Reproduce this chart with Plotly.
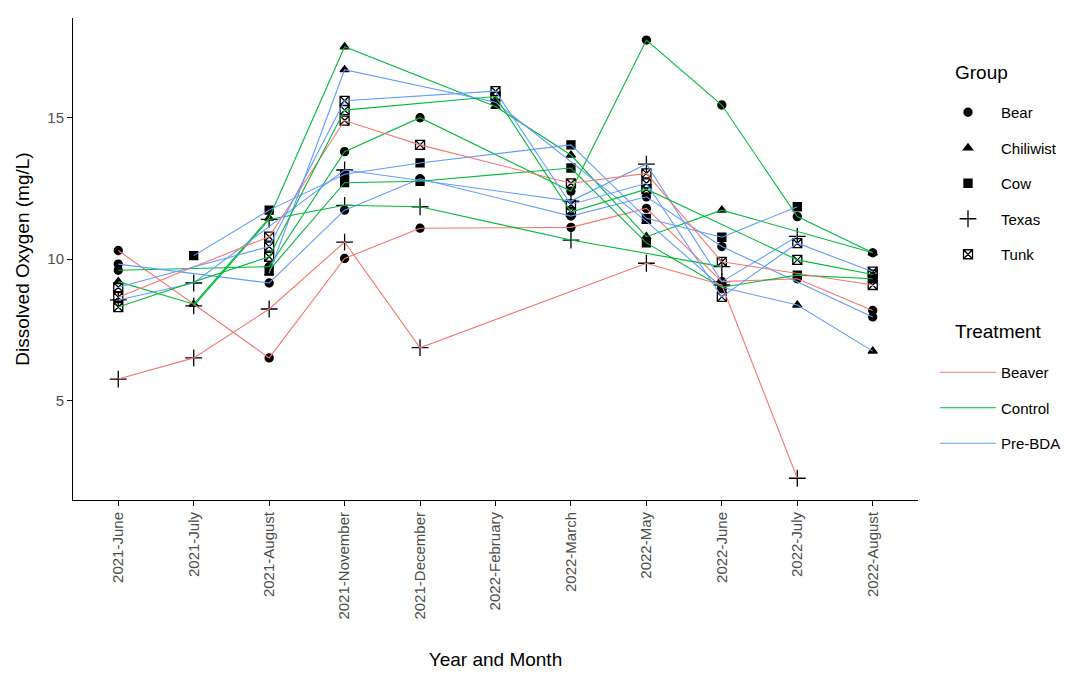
import plotly.graph_objects as go

months = ["2021-June", "2021-July", "2021-August", "2021-November", "2021-December",
          "2022-February", "2022-March", "2022-May", "2022-June", "2022-July", "2022-August"]

groups = ["Bear", "Chiliwist", "Cow", "Texas", "Tunk"]
treatments = ["Beaver", "Control", "Pre-BDA"]

# Dissolved oxygen (mg/L) per site, one value per month (None = not sampled)
bear_beaver = [10.3, None, 6.5, 10.02, 11.09, None, 11.12, 11.79, 9.2, 9.3, 8.18]
bear_control = [9.6, None, 9.73, 13.8, 15.0, None, 12.4, 17.75, 15.45, 11.5, 10.22]
bear_prebda = [9.82, None, 9.15, 11.73, 12.84, None, 11.52, 12.2, 10.44, None, 7.95]
chiliwist_control = [9.2, 8.4, 11.45, 17.51, None, 15.4, 13.68, 10.79, 11.73, None, 10.22]
chiliwist_prebda = [None, None, 9.5, 16.7, None, 15.55, None, 11.33, 9.0, 8.37, 6.74]
cow_control = [None, None, 9.6, 12.7, 12.75, None, 13.22, 10.57, 9.0, 9.43, 9.3]
cow_prebda = [None, 10.12, 11.73, 13.0, 13.4, None, 14.04, 11.44, 10.77, 11.85, None]
texas_beaver = [5.75, 6.5, 8.23, 10.6, 6.86, None, None, 9.85, 9.08, 2.24, None]
texas_control = [None, 8.34, 11.4, 11.9, 11.85, None, 10.67, None, 9.73, None, None]
texas_prebda = [8.55, 9.15, None, 13.15, None, None, 12.05, 13.36, 9.2, 10.8, None]
tunk_beaver = [8.65, None, 10.79, 14.9, 14.04, None, 12.68, 13.03, 9.9, None, 9.08]
tunk_control = [8.3, None, 10.08, 15.27, None, 15.75, 11.66, 12.47, None, 9.97, 9.45]
tunk_prebda = [9.0, None, 10.44, 15.6, None, 15.94, 11.93, 12.68, 8.66, 10.56, 9.55]

sites = [
    ("Bear", "Beaver", bear_beaver),
    ("Bear", "Control", bear_control),
    ("Bear", "Pre-BDA", bear_prebda),
    ("Chiliwist", "Control", chiliwist_control),
    ("Chiliwist", "Pre-BDA", chiliwist_prebda),
    ("Cow", "Control", cow_control),
    ("Cow", "Pre-BDA", cow_prebda),
    ("Texas", "Beaver", texas_beaver),
    ("Texas", "Control", texas_control),
    ("Texas", "Pre-BDA", texas_prebda),
    ("Tunk", "Beaver", tunk_beaver),
    ("Tunk", "Control", tunk_control),
    ("Tunk", "Pre-BDA", tunk_prebda),
]

colors = {"Beaver": "#F8766D", "Control": "#00BA38", "Pre-BDA": "#619CFF"}
symbols = {"Bear": "circle", "Chiliwist": "triangle-up", "Cow": "square",
           "Texas": "cross-thin", "Tunk": "square-x-open"}
sizes = {"Bear": 8, "Chiliwist": 8, "Cow": 8, "Texas": 12, "Tunk": 9}

FONT = "Liberation Sans, Arial, sans-serif"
fig = go.Figure()

# points, one trace per group
for g in groups:
    xs, ys = [], []
    for grp, trt, vals in sites:
        if grp != g:
            continue
        for m, v in zip(months, vals):
            if v is not None:
                xs.append(m)
                ys.append(v)
    fig.add_trace(go.Scatter(
        x=xs, y=ys, mode="markers", name=g, legend="legend", legendgroup=g,
        marker=dict(symbol=symbols[g], size=sizes[g], color="black",
                    line=dict(color="black", width=1.3)),
        hoverinfo="skip"))

# lines, one per site
for grp, trt, vals in sites:
    xs = [m for m, v in zip(months, vals) if v is not None]
    ys = [v for v in vals if v is not None]
    fig.add_trace(go.Scatter(
        x=xs, y=ys, mode="lines", showlegend=False,
        line=dict(color=colors[trt], width=1.1), hoverinfo="skip"))

# treatment legend entries
for t in treatments:
    fig.add_trace(go.Scatter(
        x=[None], y=[None], mode="lines", name=t, legend="legend2", legendgroup=t,
        line=dict(color=colors[t], width=1.1)))

axis_common = dict(showline=True, linecolor="black", linewidth=1, ticks="outside",
                   tickcolor="black", ticklen=5, showgrid=False, zeroline=False,
                   tickfont=dict(family=FONT, size=15, color="#4D4D4D"))

legend_common = dict(font=dict(size=15), xref="container", yref="container",
                     xanchor="left", yanchor="top", itemwidth=56,
                     tracegroupgap=13, bgcolor="rgba(0,0,0,0)")

fig.update_layout(
    width=1086, height=687,
    margin=dict(l=73, r=168, t=18, b=187),
    paper_bgcolor="white", plot_bgcolor="white",
    font=dict(family=FONT, color="black"),
    xaxis=dict(type="category", categoryorder="array", categoryarray=months,
               range=[-0.6, 10.6], tickangle=-90,
               title=dict(text="Year and Month", font=dict(size=19), standoff=34),
               **axis_common),
    yaxis=dict(range=[1.47, 18.53], tickvals=[5, 10, 15],
               title=dict(text="Dissolved Oxygen (mg/L)", font=dict(size=19), standoff=12),
               **axis_common),
    legend=dict(x=935 / 1086, y=1 - 96 / 687, **legend_common),
    legend2=dict(x=935 / 1086, y=1 - 356 / 687, **legend_common),
    annotations=[
        dict(text="Group", xref="paper", yref="paper", showarrow=False,
             x=(953 - 73) / 845, y=(500 - 72) / 482, xanchor="left", yanchor="middle",
             font=dict(size=19)),
        dict(text="Treatment", xref="paper", yref="paper", showarrow=False,
             x=(953 - 73) / 845, y=(500 - 331) / 482, xanchor="left", yanchor="middle",
             font=dict(size=19)),
    ],
)

fig.write_html("out.html")
